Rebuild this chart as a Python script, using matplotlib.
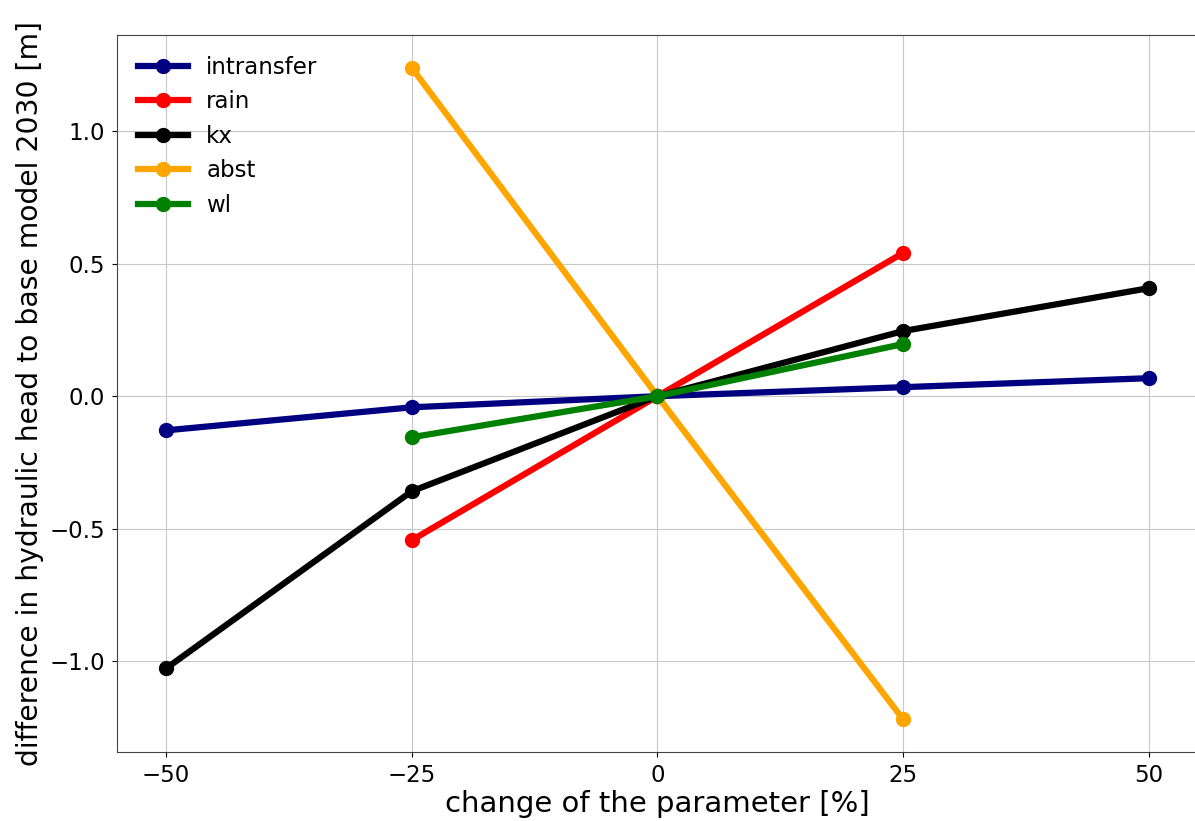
import numpy as np
import matplotlib
matplotlib.use('Agg')
import matplotlib.pyplot as plt

# parameter change [%]
x_full = [-50, -25, 0, 25, 50]
x_short = [-25, 0, 25]

intransfer = [-0.129, -0.042, 0.0, 0.034, 0.068]
rain = [-0.544, 0.0, 0.541]
kx = [-1.028, -0.359, 0.0, 0.246, 0.408]
abst = [1.240, 0.0, -1.221]
wl = [-0.155, 0.0, 0.197]

if __name__ == '__main__':
    fig = plt.figure(figsize=(11.95, 8.21), dpi=100)
    ax = fig.add_axes([0.0979, 0.084, 0.9046, 0.873])

    lw = 4.5
    ms = 10
    ax.plot(x_full, intransfer, '-o', color='navy', lw=lw, ms=ms, label='intransfer')
    ax.plot(x_short, rain, '-o', color='red', lw=lw, ms=ms, label='rain')
    ax.plot(x_full, kx, '-o', color='black', lw=lw, ms=ms, label='kx')
    ax.plot(x_short, abst, '-o', color='orange', lw=lw, ms=ms, label='abst')
    ax.plot(x_short, wl, '-o', color='green', lw=lw, ms=ms, label='wl')

    ax.set_xticks([-50, -25, 0, 25, 50])
    ax.set_yticks([-1.0, -0.5, 0.0, 0.5, 1.0])
    ax.tick_params(labelsize=16.5, pad=5)
    ax.grid(True, color='#c8c8c8')
    ax.set_axisbelow(True)
    for s in ax.spines.values():
        s.set_color('#444444')

    ax.set_xlabel('change of the parameter [%]', fontsize=21, labelpad=2)
    ax.set_ylabel('difference in hydraulic head to base model 2030 [m]', fontsize=20.3, labelpad=4)
    ax.legend(loc='upper left', fontsize=16.5, frameon=False, handlelength=2.2)

    fig.savefig('out.png', dpi=100)
